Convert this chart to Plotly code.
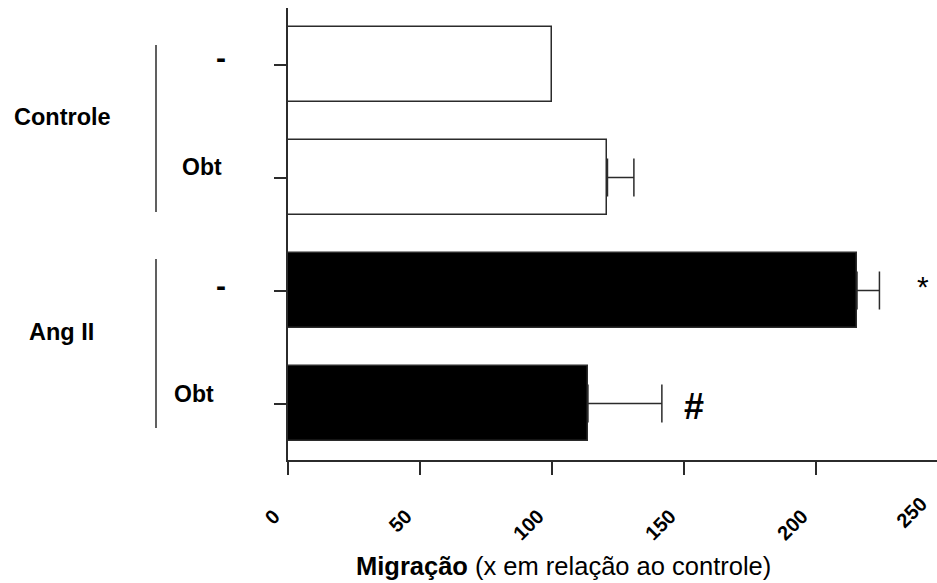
import plotly.graph_objects as go

# Migration relative to control (x-fold), one bar per condition
groups = ["Controle", "Controle", "Ang II", "Ang II"]
treatments = ["-", "Obt", "-", "Obt"]
migration = [100, 121, 215.5, 113.6]
sem = [None, 10, 8.5, 28]
bar_colors = ["white", "white", "black", "black"]
x_ticks = [0, 50, 100, 150, 200, 250]

W, H = 937, 583
L, R, T, B = 288, 937, 8, 460
x_max = 245.8

def px(xp):
    return (xp - L) / (R - L)

def py(yp):
    return (B - yp) / (B - T)

FONT = "Liberation Sans, Arial, sans-serif"
INK = "#2b2b2b"

ypos = list(range(len(migration)))

fig = go.Figure()
fig.add_trace(go.Bar(
    x=migration,
    y=ypos,
    orientation="h",
    width=0.665,
    marker=dict(color=bar_colors, line=dict(color=INK, width=1.5)),
    showlegend=False,
    hoverinfo="skip",
))

# one-sided error bars only where an SEM was measured
err_idx = [i for i, s in enumerate(sem) if s is not None]
fig.add_trace(go.Scatter(
    x=[migration[i] for i in err_idx],
    y=[ypos[i] for i in err_idx],
    mode="markers",
    marker=dict(size=1, opacity=0),
    error_x=dict(type="data", array=[sem[i] for i in err_idx],
                 symmetric=False, arrayminus=[0] * len(err_idx),
                 color=INK, thickness=1.5, width=19),
    showlegend=False,
))

fig.update_layout(
    width=W, height=H,
    margin=dict(l=L, r=W - R, t=T, b=H - B, pad=0),
    plot_bgcolor="white", paper_bgcolor="white",
    font=dict(family=FONT, color="black"),
    bargap=0,
)

fig.update_xaxes(
    range=[0, x_max],
    tickvals=x_ticks[:-1],
    ticktext=[str(v) for v in x_ticks[:-1]],
    tickangle=-45,
    tickfont=dict(size=20, weight="bold", family=FONT),
    ticks="outside", ticklen=13, tickwidth=1.5, tickcolor=INK,
    showline=True, linecolor=INK, linewidth=1.5,
    showgrid=False, zeroline=False,
    ticklabelstandoff=22, ticklabelshift=-14,
)

fig.update_yaxes(
    range=[3.5, -0.5],
    tickvals=ypos,
    showticklabels=False,
    ticks="outside", ticklen=12, tickwidth=1.5, tickcolor=INK,
    showline=True, linecolor=INK, linewidth=1.5,
    showgrid=False, zeroline=False,
)

# last tick label sits beyond the right edge of the axis
last = x_ticks[-1]
fig.add_annotation(
    xref="paper", yref="paper",
    x=px(L + (R - L) * last / x_max - 14), y=py(B + 30),
    text=str(last), showarrow=False, textangle=-45,
    xanchor="right", yanchor="top",
    font=dict(size=20, weight="bold", family=FONT),
)

# treatment labels beside each bar
label_right = [228, 224, 228, 216]
label_shift = [7, 11, 5, 10]
for i, (lab, xr, ys) in enumerate(zip(treatments, label_right, label_shift)):
    size = 30 if lab == "-" else 23
    fig.add_annotation(
        xref="paper", yref="y", x=px(xr), y=ypos[i], yshift=ys,
        text=lab, showarrow=False, xanchor="right", yanchor="middle",
        font=dict(size=size, weight="bold", family=FONT),
    )

# group labels with brackets
group_names = ["Controle", "Ang II"]
group_label_pos = [(12, 117), (27, 332)]
group_brackets = [(45, 212), (259, 428)]
for name, (gx, gy), (y0, y1) in zip(group_names, group_label_pos, group_brackets):
    fig.add_annotation(
        xref="paper", yref="paper", x=px(gx), y=py(gy),
        text=name, showarrow=False, xanchor="left", yanchor="middle",
        font=dict(size=23.5, weight="bold", family=FONT),
    )
    fig.add_shape(
        type="line", xref="paper", yref="paper",
        x0=px(156), x1=px(156), y0=py(y0), y1=py(y1),
        line=dict(color=INK, width=1.5),
    )

# significance markers next to the error bars
fig.add_annotation(
    x=migration[2] + sem[2], y=2, xshift=44, yshift=4,
    text="*", showarrow=False, xanchor="center", yanchor="middle",
    font=dict(size=30, family=FONT),
)
fig.add_annotation(
    x=migration[3] + sem[3], y=3, xshift=32, yshift=-3,
    text="#", showarrow=False, xanchor="center", yanchor="middle",
    font=dict(size=36, weight="bold", family=FONT),
)

# axis title
fig.add_annotation(
    xref="paper", yref="paper", x=px(563), y=py(566),
    text="<b>Migração</b> (x em relação ao controle)", showarrow=False,
    xanchor="center", yanchor="middle",
    font=dict(size=25.5, family=FONT),
)

fig.write_html("out.html")
